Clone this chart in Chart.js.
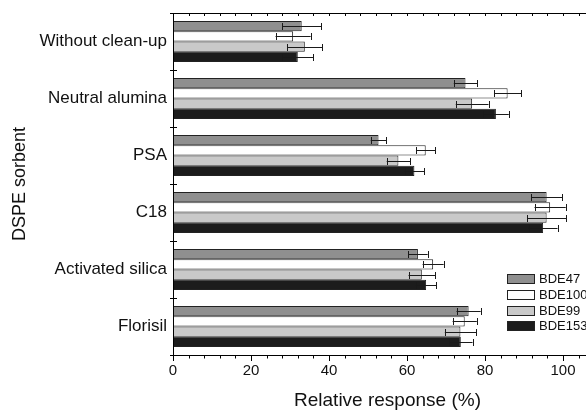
<!DOCTYPE html>
<html>
<head>
<meta charset="utf-8">
<script src="https://cdn.jsdelivr.net/npm/chart.js@4/dist/chart.umd.min.js"></script>
<style>
  html, body { margin: 0; padding: 0; background: #fff; overflow: hidden; }
  #wrap { position: relative; width: 604px; height: 414px; }
</style>
</head>
<body>
<div id="wrap"><canvas id="chart"></canvas></div>
<script>
// sorbents, top to bottom
const categories = ['Without clean-up', 'Neutral alumina', 'PSA', 'C18', 'Activated silica', 'Florisil'];
const seriesNames = ['BDE47', 'BDE100', 'BDE99', 'BDE153'];

const bde47 = [33.0, 75.0, 52.7, 95.8, 62.8, 75.8];
const bde100 = [30.8, 85.8, 64.8, 96.7, 66.7, 74.8];
const bde99 = [33.8, 76.7, 57.8, 95.8, 63.8, 73.7];
const bde153 = [32.0, 82.8, 61.9, 94.9, 64.9, 73.8];

const err47 = [5.0, 3.0, 2.0, 4.0, 2.5, 3.1];
const err100 = [4.5, 3.5, 2.5, 4.0, 2.7, 3.1];
const err99 = [4.5, 4.2, 3.0, 5.0, 3.4, 4.0];
const err153 = [4.0, 3.3, 2.5, 3.7, 2.6, 3.0];

const xMajorTicks = [0, 20, 40, 60, 80, 100];
const xMinorStep = 4;
const xMax = 110;

const FONT = '"Liberation Sans", Arial, sans-serif';
const fills = ['#8f8f8f', '#ffffff', '#c9c9c9', '#1c1c1c'];
const edge = '#222';

const values = [bde47, bde100, bde99, bde153];
const errors = [err47, err100, err99, err153];

const datasets = seriesNames.map((name, i) => ({
  label: name,
  data: values[i],
  errors: errors[i],
  backgroundColor: fills[i],
  borderColor: edge,
  borderWidth: 1,
  borderSkipped: false,
  categoryPercentage: 0.72,
  barPercentage: 1.0
}));

// axis frame, tick marks and the top border line
const framePlugin = {
  id: 'frame',
  afterDraw(chart) {
    const { ctx, chartArea: a } = chart;
    const xs = chart.scales.x;
    const ys = chart.scales.y;
    ctx.save();
    ctx.strokeStyle = '#000';
    ctx.lineWidth = 1;
    ctx.beginPath();
    // left and bottom axis, top border
    ctx.moveTo(a.left + 0.5, a.top);
    ctx.lineTo(a.left + 0.5, a.bottom + 0.5);
    ctx.lineTo(a.right, a.bottom + 0.5);
    ctx.moveTo(a.left, a.top + 0.5);
    ctx.lineTo(a.right, a.top + 0.5);
    // x ticks, bottom (outwards) and top (inwards)
    for (let v = 0; v <= xMax; v += xMinorStep) {
      const px = Math.round(xs.getPixelForValue(v)) + 0.5;
      const major = xMajorTicks.includes(v);
      ctx.moveTo(px, a.bottom);
      ctx.lineTo(px, a.bottom + (major ? 6 : 3.5));
      if (v > 0) {
        ctx.moveTo(px, a.top);
        ctx.lineTo(px, a.top + 3);
      }
    }
    // category boundary ticks on the left axis
    for (let i = 0; i <= categories.length; i++) {
      const py = Math.round(ys.getPixelForValue(i - 0.5)) + 0.5;
      ctx.moveTo(a.left - 3, py);
      ctx.lineTo(a.left + 4, py);
    }
    ctx.stroke();
    ctx.restore();
  }
};

// error bars, drawn through the x scale
const errorBarPlugin = {
  id: 'errorBars',
  afterDatasetsDraw(chart) {
    const { ctx } = chart;
    const xs = chart.scales.x;
    ctx.save();
    ctx.strokeStyle = '#1a1a1a';
    ctx.lineWidth = 1;
    chart.data.datasets.forEach((ds, di) => {
      const meta = chart.getDatasetMeta(di);
      meta.data.forEach((bar, i) => {
        const v = ds.data[i];
        const e = ds.errors[i];
        const x1 = xs.getPixelForValue(v - e);
        const x2 = xs.getPixelForValue(v + e);
        const y = Math.round(bar.y) + 0.5;
        ctx.beginPath();
        ctx.moveTo(x1, y);
        ctx.lineTo(x2, y);
        ctx.moveTo(Math.round(x1) + 0.5, y - 3.5);
        ctx.lineTo(Math.round(x1) + 0.5, y + 3.5);
        ctx.moveTo(Math.round(x2) + 0.5, y - 3.5);
        ctx.lineTo(Math.round(x2) + 0.5, y + 3.5);
        ctx.stroke();
      });
    });
    ctx.restore();
  }
};

// boxed legend inside the plot, lower right
const legendPlugin = {
  id: 'boxLegend',
  afterDraw(chart) {
    const { ctx } = chart;
    const x0 = 507, y0 = 274, rowH = 15.8, boxW = 28, boxH = 10;
    ctx.save();
    ctx.font = '13px ' + FONT;
    ctx.textBaseline = 'middle';
    ctx.textAlign = 'left';
    chart.data.datasets.forEach((ds, i) => {
      const y = Math.round(y0 + i * rowH);
      ctx.fillStyle = ds.backgroundColor;
      ctx.fillRect(x0, y, boxW, boxH);
      ctx.strokeStyle = edge;
      ctx.lineWidth = 1;
      ctx.strokeRect(x0 + 0.5, y + 0.5, boxW - 1, boxH - 1);
      ctx.fillStyle = '#111';
      ctx.fillText(ds.label, x0 + boxW + 4, y + boxH / 2 + 0.5);
    });
    ctx.restore();
  }
};

new Chart(document.getElementById('chart'), {
  type: 'bar',
  data: { labels: categories, datasets },
  options: {
    indexAxis: 'y',
    responsive: true,
    maintainAspectRatio: false,
    animation: false,
    layout: { padding: { top: 13, right: 2, left: 0, bottom: 0 } },
    plugins: { legend: { display: false }, tooltip: { enabled: false } },
    scales: {
      x: {
        type: 'linear',
        min: 0,
        max: xMax,
        afterBuildTicks: (scale) => { scale.ticks = xMajorTicks.map((v) => ({ value: v })); },
        afterFit: (scale) => { scale.height = 59; scale.paddingLeft = 0; scale.paddingRight = 0; },
        grid: { display: false, drawTicks: false },
        border: { display: false },
        ticks: { color: '#111', font: { family: FONT, size: 15 }, padding: 7, maxRotation: 0, autoSkip: false },
        title: { display: true, text: 'Relative response (%)', color: '#111', font: { family: FONT, size: 19 }, padding: { top: 0, bottom: 2 } }
      },
      y: {
        type: 'category',
        afterFit: (scale) => { scale.width = 173; scale.paddingTop = 0; scale.paddingBottom = 0; },
        grid: { display: false, drawTicks: false },
        border: { display: false },
        ticks: { color: '#111', font: { family: FONT, size: 17 }, padding: 6 },
        title: { display: true, text: 'DSPE sorbent', color: '#111', font: { family: FONT, size: 18 }, padding: { top: 9, bottom: 0 } }
      }
    }
  },
  plugins: [errorBarPlugin, framePlugin, legendPlugin]
});
</script>
</body>
</html>
